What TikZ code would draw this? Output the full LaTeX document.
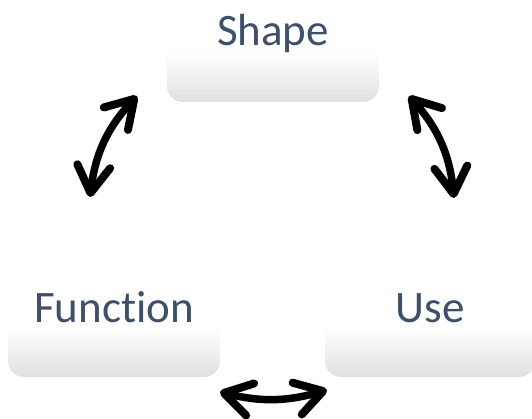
\documentclass[tikz,border=0pt]{standalone}
\usepackage{fontspec}
\setmainfont[Ligatures={NoCommon,NoContextual}]{Carlito}
\usetikzlibrary{arrows.meta}
\definecolor{labelblue}{HTML}{3D4F6B}
\tikzset{
  panel/.style={rounded corners=16pt, minimum width=212pt, minimum height=100pt,
    inner sep=0pt, top color=white, bottom color=black!12, middle color=white,
    shading angle=0},
  caption/.style={anchor=base, text=labelblue, font=\fontsize{45}{50}\selectfont},
  barb/.tip={Straight Barb[length=27pt,width=33pt,line width=8pt,round]},
  twoway/.style={line width=7.5pt, line cap=round, barb-barb}
}
\begin{document}
\begin{tikzpicture}[x=1pt,y=-1pt]
\useasboundingbox (0,0) rectangle (532,419);
% three rounded panels
\node[panel] (shape) at (273,52) {};
\node[panel] (func) at (114,327) {};
\node[panel, minimum width=210pt] (use) at (430,327) {};
% their captions
\node[caption] (shapetxt) at ([yshift=57pt]shape.south) {Shape};
\node[caption] (functxt) at ([yshift=55pt]func.south) {Function};
\node[caption] (usetxt) at ([yshift=55pt]use.south) {Use};
% arrow end points
\coordinate (a1) at (137,96);
\coordinate (a2) at (90,197);
\coordinate (b1) at (409,96);
\coordinate (b2) at (454,198);
\coordinate (c1) at (220,392);
\coordinate (c2) at (327,390);
% two-way arrows between the panels
\draw[twoway] (a1) to[bend right=18] (a2);
\draw[twoway] (b1) to[bend left=18] (b2);
\draw[twoway] (c1) to[bend right=15] (c2);
\end{tikzpicture}
\end{document}
